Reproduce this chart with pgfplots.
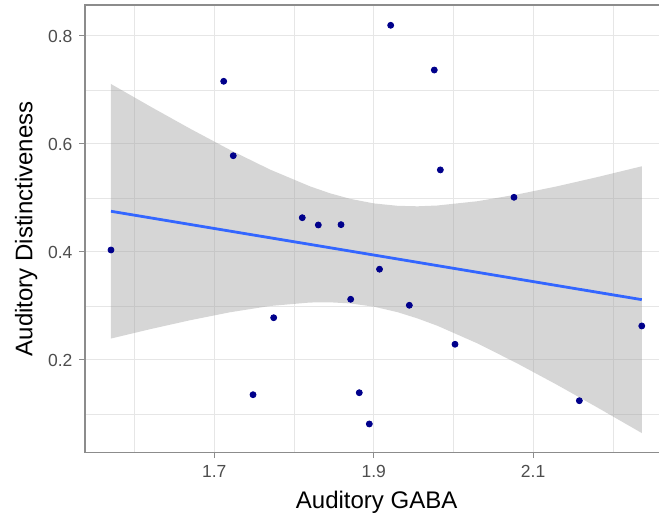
\documentclass[border=0pt]{standalone}
\usepackage{pgfplots}
\pgfplotsset{compat=1.18}
\usepackage{fontspec}
\setmainfont{Liberation Sans}
\definecolor{gridc}{HTML}{E6E6E6}
\definecolor{axc}{HTML}{8C8C8C}
\definecolor{tickc}{HTML}{4D4D4D}
\definecolor{ptc}{HTML}{00008B}
\definecolor{linec}{HTML}{3366FF}
\definecolor{bandc}{HTML}{999999}
\begin{document}
\begin{tikzpicture}
\begin{axis}[
  scale only axis,
  width=291.65pt, height=223.85pt,
  xmin=1.5378, xmax=2.2696, ymin=0.0283, ymax=0.8574,
  xtick={1.7,1.9,2.1}, xticklabels={1.7,1.9,2.1},
  ytick={0.2,0.4,0.6,0.8}, yticklabels={0.2,0.4,0.6,0.8},
  minor xtick={1.6,1.8,2.0,2.2}, minor ytick={0.1,0.3,0.5,0.7},
  grid=both,
  major grid style={line width=0.5pt, draw=gridc},
  minor grid style={line width=0.3pt, draw=gridc},
  tick align=outside, tick pos=left,
  major tick length=2.75pt, minor tick length=0pt,
  tick style={draw=axc, line width=0.5pt},
  axis line style={draw=axc, line width=0.6pt},
  /pgf/number format/assume math mode=true,
  ticklabel style={font=\fontsize{8.75}{10}\selectfont, text=tickc},
  xlabel={Auditory GABA},
  ylabel={Auditory Distinctiveness},
  label style={font=\fontsize{12}{14}\selectfont, text=black},
  xlabel style={at={(axis description cs:0.5,0)}, anchor=base, yshift=-27.8pt},
  ylabel style={at={(axis description cs:-0.09035,0.5)}, anchor=base},
]
\addplot[only marks, mark=*, mark size=1.5pt, mark options={draw=ptc, fill=ptc}] coordinates {
(1.5704,0.4037) (1.7118,0.7161) (1.7238,0.5783) (1.7486,0.1357) (1.7745,0.2783)
(1.8104,0.4635) (1.8305,0.4500) (1.8590,0.4506) (1.8711,0.3124) (1.8819,0.1394)
(1.8945,0.0815) (1.9073,0.3681) (1.9213,0.8198) (1.9447,0.3013) (1.9760,0.7370)
(1.9836,0.5520) (2.0020,0.2291) (2.0760,0.5013) (2.1580,0.1246) (2.2363,0.2630)
};
\addplot[draw=none, fill=bandc, fill opacity=0.4] coordinates {
(1.5704,0.7111) (1.62,0.6692) (1.67,0.6281) (1.72,0.5888) (1.77,0.5526)
(1.82,0.5216) (1.845,0.5088) (1.87,0.4986) (1.90,0.4900) (1.93,0.4855) (1.955,0.4846)
(1.98,0.4861) (2.03,0.4940) (2.08,0.5065) (2.13,0.5216) (2.18,0.5385) (2.2363,0.5587)
(2.2363,0.0647) (2.18,0.1125) (2.13,0.1540) (2.08,0.1937) (2.03,0.2308) (1.98,0.2633)
(1.955,0.2769) (1.93,0.2885) (1.90,0.2988) (1.87,0.3048) (1.845,0.3068) (1.82,0.3064)
(1.77,0.3000) (1.72,0.2884) (1.67,0.2737) (1.62,0.2572) (1.5704,0.2397)
} -- cycle;
\addplot[linec, line width=1.4pt] coordinates {(1.5704,0.4754) (2.2363,0.3117)};
\end{axis}
\pgfresetboundingbox
\useasboundingbox (-42.5pt,-32.65pt) rectangle (287pt,226.35pt);
\end{tikzpicture}
\end{document}
